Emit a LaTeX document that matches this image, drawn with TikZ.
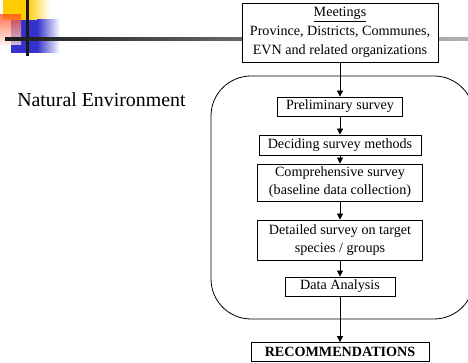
\documentclass[tikz,border=0pt]{standalone}
\usepackage{fontspec}
\setmainfont{Liberation Serif}
\usetikzlibrary{arrows.meta, positioning}
\newcommand{\boxfont}{\fontsize{10.6}{13.5}\selectfont}
\newcommand{\titlefont}{\fontsize{14.9}{18}\selectfont}
\definecolor{decoyellow}{HTML}{FFCC00}
\definecolor{decored}{HTML}{FF4B1E}
\definecolor{decoblue}{HTML}{3333CC}
\tikzset{
    stagebox/.style={draw, fill=white, line width=0.6pt, inner sep=1.5pt, align=center, font=\boxfont},
    flowarrow/.style={-{Triangle[length=4.5pt,width=4.5pt]}, line width=0.6pt},
    envframe/.style={draw, rounded corners=30pt, line width=0.6pt}
}

\begin{document}
\begin{tikzpicture}[x=0.75pt, y=-0.75pt]
    \useasboundingbox (0,0) rectangle (468,363);
    \clip (0,0) rectangle (468,363);

    % Slide corner decoration
    \fill[decoyellow] (3,0) rectangle (27,20);
    \shade[left color=decoyellow, right color=white] (27,0) rectangle (50,20);
    \fill[decoblue] (11,20) rectangle (37,53);
    \shade[left color=decoblue, right color=white] (37,20) rectangle (60,53);
    \shade[top color=decored, bottom color=decored!10, opacity=0.75] (0,15) rectangle (21,45);
    \fill[black!90] (26,0) rectangle (29,56);
    \shade[left color=black!90, right color=black!30] (5,38) rectangle (468,41);

    \node[anchor=base west, font=\titlefont, inner sep=0pt] (envlabel) at (17,107) {Natural Environment};

    % Frame of the survey stages
    \draw[envframe] (211,76) rectangle (474,319);

    \node[stagebox, minimum width=147pt, minimum height=44.25pt, font=\fontsize{10.6}{14.5}\selectfont] (meet) at (340,32.5) {\underline{Meetings}\\Province, Districts, Communes,\\EVN and related organizations};
    \node[stagebox, minimum width=93.75pt, minimum height=14.25pt] (prelim) at (340,106.5) {Preliminary survey};
    \node[stagebox, minimum width=121.5pt, minimum height=15pt] (methods) at (340,145) {Deciding survey methods};
    \node[stagebox, minimum width=123.75pt, minimum height=27.75pt] (compre) at (340,182.5) {Comprehensive survey\\(baseline data collection)};
    \node[stagebox, minimum width=123.75pt, minimum height=30pt] (detail) at (340,240) {Detailed survey on target\\species / groups};
    \node[stagebox, minimum width=82.5pt, minimum height=14.25pt] (analysis) at (340,286.5) {Data Analysis};
    \node[stagebox, minimum width=133.5pt, minimum height=14.25pt, font=\boxfont\bfseries] (recom) at (340,352) {RECOMMENDATIONS};

    % Flow from meetings down to recommendations
    \draw[flowarrow] (meet) -- (prelim);
    \draw[flowarrow] (prelim) -- (methods);
    \draw[flowarrow] (methods) -- (compre);
    \draw[flowarrow] (compre) -- (detail);
    \draw[flowarrow] (detail) -- (analysis);
    \draw[flowarrow] (analysis) -- (recom);
\end{tikzpicture}
\end{document}
